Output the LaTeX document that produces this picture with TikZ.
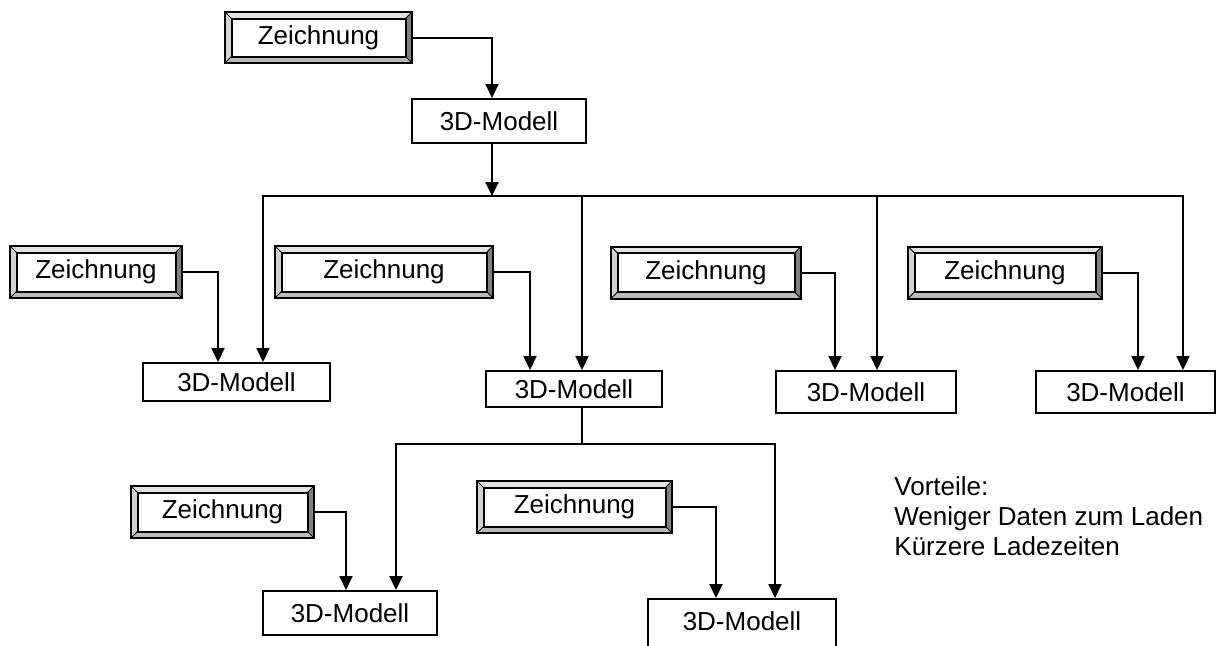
\documentclass[tikz,border=0pt]{standalone}
\usepackage{fontspec}
\setmainfont{Liberation Sans}
\usetikzlibrary{arrows.meta}
\definecolor{bevtop}{RGB}{226,226,226}
\definecolor{bevleft}{RGB}{210,210,210}
\definecolor{bevbottom}{RGB}{186,186,186}
\definecolor{bevright}{RGB}{128,128,128}
\newcommand{\zbevel}{%
  \coordinate (bNW) at (path picture bounding box.north west);
  \coordinate (bNE) at (path picture bounding box.north east);
  \coordinate (bSW) at (path picture bounding box.south west);
  \coordinate (bSE) at (path picture bounding box.south east);
  \coordinate (iNW) at ([shift={(3.25pt,-3.25pt)}]bNW);
  \coordinate (iNE) at ([shift={(-3.25pt,-3.25pt)}]bNE);
  \coordinate (iSW) at ([shift={(3.25pt,3.25pt)}]bSW);
  \coordinate (iSE) at ([shift={(-3.25pt,3.25pt)}]bSE);
  \fill[bevtop] (bNW) -- (bNE) -- (iNE) -- (iNW) -- cycle;
  \fill[bevleft] (bNW) -- (bSW) -- (iSW) -- (iNW) -- cycle;
  \fill[bevbottom] (bSW) -- (bSE) -- (iSE) -- (iSW) -- cycle;
  \fill[bevright] (bNE) -- (bSE) -- (iSE) -- (iNE) -- cycle;
  \draw[line width=0.4pt] (bNW) -- (iNW) (bNE) -- (iNE) (bSW) -- (iSW) (bSE) -- (iSE);
  \draw[line width=1pt] (iNW) rectangle (iSE);
}

\begin{document}
\begin{tikzpicture}[x=0.5pt,y=-0.5pt,
        font=\fontsize{13}{15}\selectfont,
        modell/.style={rectangle,draw=black,line width=1pt,inner sep=0pt,minimum height=21pt},
        zeich/.style={rectangle,draw=black,line width=1pt,inner sep=0pt,minimum height=26pt,
          path picture={\zbevel}},
        push/.style={draw,line width=1pt,-{Triangle[length=7pt,width=6.5pt]}},
      ]
      \clip (0,0) rectangle (1221,645);
      \node[zeich,minimum width=93.5pt,minimum height=25.5pt] at (318.5,37.5) (Z0) {Zeichnung};
      \node[modell,minimum width=87pt,minimum height=22pt] at (499,121) (M0) {3D-Modell};
      \coordinate (bus) at (492,196);
%
      \node[zeich,minimum width=86pt] at (96,272) (Z1) {Zeichnung};
      \node[zeich,minimum width=109pt] at (384,272) (Z2) {Zeichnung};
      \node[zeich,minimum width=95pt] at (706,272.5) (Z3) {Zeichnung};
      \node[zeich,minimum width=97pt] at (1005,272.5) (Z4) {Zeichnung};
%
      \node[modell,minimum width=93.5pt,minimum height=19pt] at (236.5,382) (M1) {3D-Modell};
      \node[modell,minimum width=88pt,minimum height=18pt] at (574,389) (M2) {3D-Modell};
      \node[modell,minimum width=90pt] at (866,392) (M3) {3D-Modell};
      \node[modell,minimum width=89.5pt] at (1125.5,392) (M4) {3D-Modell};
      \coordinate (bus2) at (582,444);
%
      \node[zeich,minimum width=91.5pt] at (222.5,512) (Z5) {Zeichnung};
      \node[zeich,minimum width=97.5pt] at (574.5,507) (Z6) {Zeichnung};
      \node[modell,minimum width=87pt,minimum height=22pt] at (350,613) (M5) {3D-Modell};
      \node[modell,minimum width=94pt,minimum height=28pt,text depth=6pt,anchor=north] at (742,598) (M6) {3D-Modell};
%
      \node[align=left,inner sep=0pt,anchor=west] at (894,516.5) (vorteile) {Vorteile:\\Weniger Daten zum Laden\\Kürzere Ladezeiten};
%
      \path[push] (Z0.east) -| ([xshift=-3.5pt]M0.north);
      \path[push] ([xshift=-3.5pt]M0.south) -- (bus);
      \path[push] (bus) -| ([xshift=13.25pt]M1.north);
      \path[push] (bus) -| ([xshift=4pt]M2.north);
      \path[push] (bus) -| ([xshift=5.5pt]M3.north);
      \path[push] (bus) -| ([xshift=28.75pt]M4.north);
      \path[push] (Z1.east) -| ([xshift=-9.25pt]M1.north);
      \path[push] (Z2.east) -| ([xshift=-22pt]M2.north);
      \path[push] (Z3.east) -| ([xshift=-15.5pt]M3.north);
      \path[push] (Z4.east) -| ([xshift=6.25pt]M4.north);
%
      \draw[line width=1pt] ([xshift=4pt]M2.south) -- (bus2);
      \path[push] (bus2) -| ([xshift=23pt]M5.north);
      \path[push] (bus2) -| ([xshift=16.5pt]M6.north);
      \path[push] (Z5.east) -| ([xshift=-2pt]M5.north);
      \path[push] (Z6.east) -| ([xshift=-13pt]M6.north);
    \end{tikzpicture}
\end{document}
